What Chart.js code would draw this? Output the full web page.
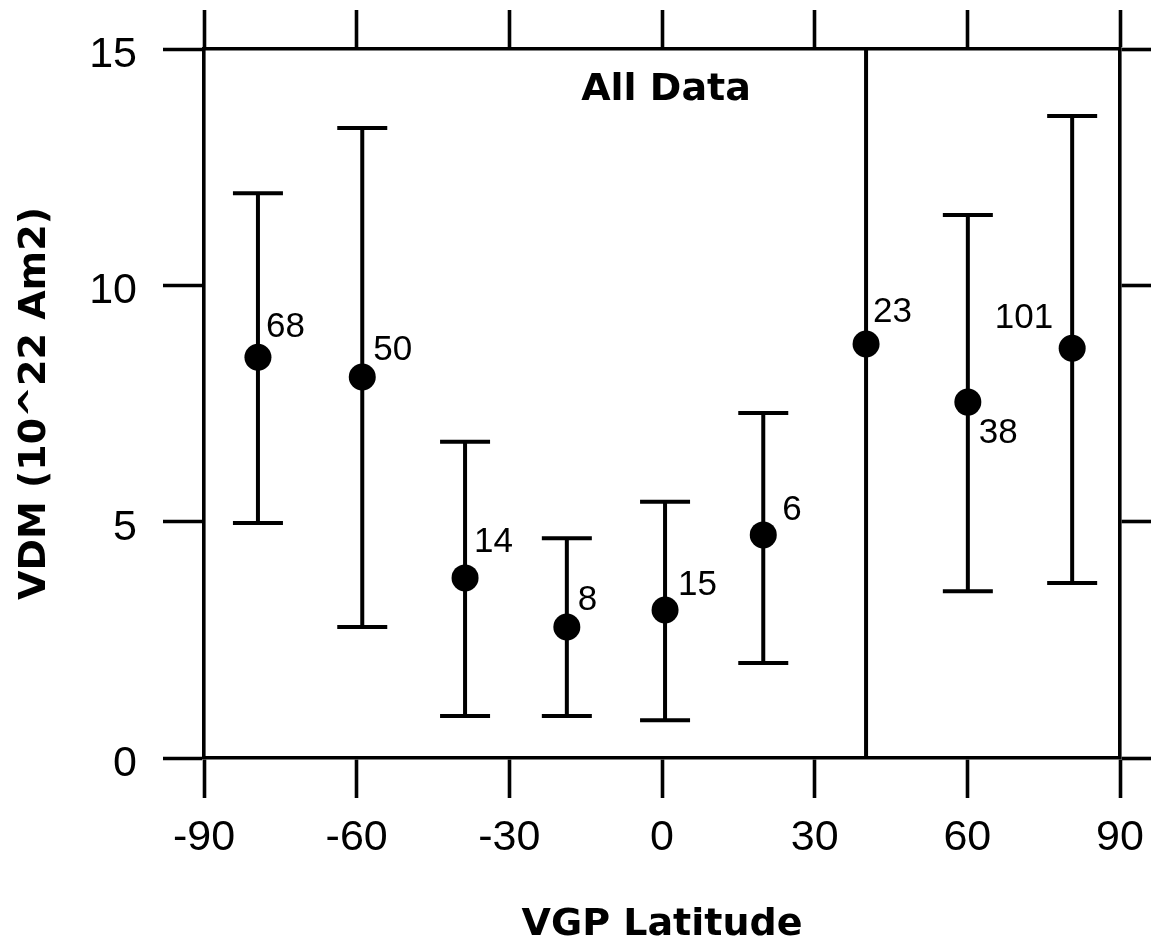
<!DOCTYPE html>
<html>
<head>
<meta charset="utf-8">
<script src="https://cdn.jsdelivr.net/npm/chart.js@4"></script>
<style>
  html,body{margin:0;padding:0;background:#fff;}
  #wrap{width:1151px;height:944px;position:relative;}
</style>
</head>
<body>
<div id="wrap"><canvas id="vdmChart"></canvas></div>
<script>
// VGP latitude bins, VDM means, error bar limits and site counts
const latitudes = [-79.4, -58.9, -38.7, -18.7, 0.6, 19.9, 40.1, 60.1, 80.6];
const vdm       = [8.48, 8.06, 3.81, 2.77, 3.13, 4.72, 8.76, 7.53, 8.67];
const upper     = [11.95, 13.33, 6.69, 4.65, 5.42, 7.30, 17, 11.49, 13.58];
const lower     = [4.97, 2.77, 0.89, 0.89, 0.80, 2.01, -2, 3.53, 3.70];
const counts    = ['68', '50', '14', '8', '15', '6', '23', '38', '101'];
const xTicks    = [-90, -60, -30, 0, 30, 60, 90];
const yTicks    = [0, 5, 10, 15];

// where each count label sits relative to its dot (style only)
const labelOffsets = [[8,-30],[11,-27],[9,-36],[11,-27],[13,-25],[19,-25],[7,-32],[11,31],[-19,-30]];

Chart.defaults.font.family = '"Liberation Sans", Arial, Helvetica, sans-serif';
Chart.defaults.color = '#000';

const LINE = 3.6;
const axisGrid = (len) => ({drawOnChartArea:false, drawTicks:true, tickLength:len, tickColor:'#000', tickWidth:LINE});
const axisBorder = {display:true, color:'#000', width:LINE};

const errorBars = {
  id:'errorBars',
  beforeDatasetsDraw(chart){
    const {ctx, chartArea:a, scales:{x,y}} = chart;
    ctx.save();
    ctx.beginPath(); ctx.rect(a.left, a.top, a.right-a.left, a.bottom-a.top); ctx.clip();
    ctx.strokeStyle = '#000'; ctx.lineWidth = 4; ctx.lineCap = 'butt';
    latitudes.forEach((lat,i)=>{
      const px = x.getPixelForValue(lat);
      const top = y.getPixelForValue(upper[i]), bot = y.getPixelForValue(lower[i]);
      ctx.beginPath();
      ctx.moveTo(px, top); ctx.lineTo(px, bot);
      ctx.moveTo(px-25, top); ctx.lineTo(px+25, top);
      ctx.moveTo(px-25, bot); ctx.lineTo(px+25, bot);
      ctx.stroke();
    });
    ctx.restore();
  },
  afterDatasetsDraw(chart){
    const {ctx, chartArea:a, scales:{x,y}} = chart;
    ctx.save();
    ctx.fillStyle = '#000';
    ctx.font = '35px "Liberation Sans", Arial, sans-serif';
    ctx.textBaseline = 'middle';
    latitudes.forEach((lat,i)=>{
      const [dx,dy] = labelOffsets[i];
      ctx.textAlign = dx < 0 ? 'right' : 'left';
      ctx.fillText(counts[i], x.getPixelForValue(lat)+dx, y.getPixelForValue(vdm[i])+dy);
    });
    ctx.font = 'bold 38px "DejaVu Sans", sans-serif';
    ctx.textAlign = 'center';
    ctx.fillText('All Data', (a.left+a.right)/2 + 4, a.top + 41);
    ctx.restore();
  }
};

const fitX = (h) => (s) => { s.height = h; s.paddingLeft = 0; s.paddingRight = 0; };

new Chart(document.getElementById('vdmChart').getContext('2d'), {
  type:'scatter',
  data:{datasets:[{
    data: latitudes.map((lat,i)=>({x:lat, y:vdm[i]})),
    pointRadius:13.5, pointHoverRadius:13.5,
    backgroundColor:'#000', borderColor:'#000', borderWidth:0
  }]},
  options:{
    responsive:true, maintainAspectRatio:false, animation:false,
    layout:{padding:0},
    plugins:{legend:{display:false}, tooltip:{enabled:false}},
    events:[],
    scales:{
      x:{
        type:'linear', position:'bottom', min:-90, max:90,
        afterBuildTicks: s => { s.ticks = xTicks.map(v=>({value:v})); },
        afterFit: fitX(186),
        grid: axisGrid(40), border: axisBorder,
        ticks:{font:{size:43}, padding:14, maxRotation:0},
        title:{display:true, text:'VGP Latitude', font:{family:'"DejaVu Sans", sans-serif', size:38, weight:'bold', lineHeight:1}, padding:{top:0,bottom:0}}
      },
      x2:{
        type:'linear', position:'top', min:-90, max:90,
        afterBuildTicks: s => { s.ticks = xTicks.map(v=>({value:v})); },
        afterFit: fitX(49),
        grid: axisGrid(39), border: axisBorder,
        ticks:{display:false}
      },
      y:{
        type:'linear', position:'left', min:0, max:15,
        afterBuildTicks: s => { s.ticks = yTicks.map(v=>({value:v})); },
        afterFit: s => { s.width = 204; s.paddingTop = 0; s.paddingBottom = 0; },
        grid: axisGrid(41), border: axisBorder,
        ticks:{font:{size:43}, padding:26, labelOffset:6},
        title:{display:true, text:'VDM (10^22 Am2)', font:{family:'"DejaVu Sans", sans-serif', size:38, weight:'bold', lineHeight:1}, padding:{top:16,bottom:0}}
      },
      y2:{
        type:'linear', position:'right', min:0, max:15,
        afterBuildTicks: s => { s.ticks = yTicks.map(v=>({value:v})); },
        afterFit: s => { s.width = 31; s.paddingTop = 0; s.paddingBottom = 0; },
        grid: axisGrid(31), border: axisBorder,
        ticks:{display:false}
      }
    }
  },
  plugins:[errorBars]
});
</script>
</body>
</html>
